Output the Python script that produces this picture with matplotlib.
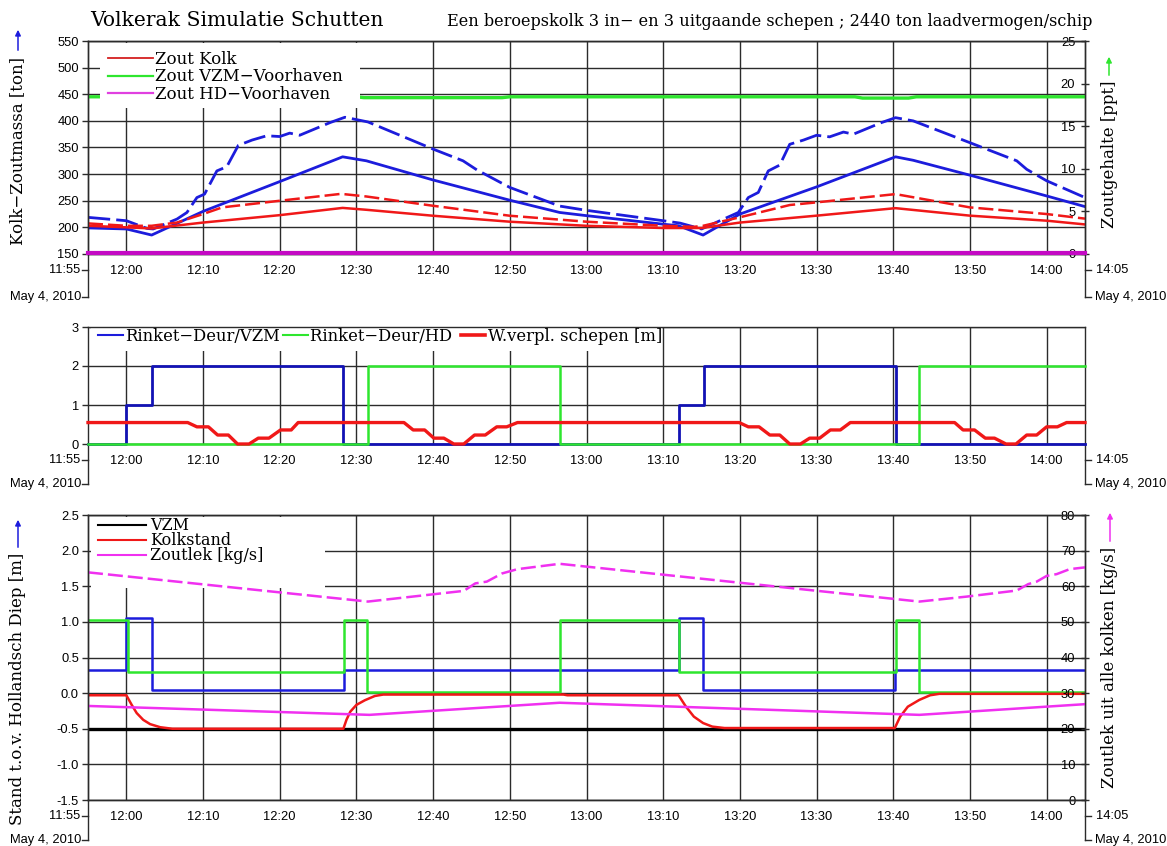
import numpy as np
import matplotlib.pyplot as plt
import matplotlib.dates as mdates
from matplotlib.lines import Line2D
from matplotlib.patches import Rectangle, FancyArrowPatch
from matplotlib.ticker import FormatStrFormatter

W, H = 1167, 846
SERIF = 'DejaVu Serif'
SANS = 'Liberation Sans'
GRID = '#2b2b2b'
RED = '#f01818'
BLUE = '#1c1cdc'
NAVY = '#1212b4'
GREEN = '#2ee62e'
MAGENTA = '#c40ac4'
PINK = '#f030f0'

START = np.datetime64('2010-05-04T11:55:00')
END_MIN = 130

# all times are minutes after 11:55

# kolk zoutmassa [ton], left axis of the top panel
mass_t = [0, 5, 8.3, 15, 25, 33.2, 36.3, 45, 55, 61.5, 65, 75, 77, 80.2, 85, 95,
          105.3, 107.6, 115, 125, 130]
mass_ton = [199, 197, 185.6, 230, 286, 332.5, 325, 289, 251, 228, 222, 206, 203, 185.6,
            225, 276, 332.5, 326, 298, 259, 239]
mass_max_t = [0, 5, 7.7, 8.5, 11.6, 12.9, 14.2, 15.2, 16.8, 18.1, 19.6, 21.4, 23.3, 25,
              26.3, 27.6, 31.6, 33.5, 36.5, 45, 48.9, 50.7, 55, 61.5, 65, 75, 77.2, 80,
              84.8, 86.1, 87.4, 88.7, 90.2, 91.5, 93.3, 95, 96.7, 98.5, 99.8, 103.5,
              105.3, 107.6, 115, 121.1, 122.4, 125, 130]
mass_max_ton = [218.8, 212.5, 198, 197, 215.6, 228, 256, 262.5, 306, 314, 354, 364, 372,
                370.6, 377, 373, 397, 406.8, 398, 347, 325, 308, 275, 240, 232, 212.5,
                208, 197, 228, 256, 265.6, 306, 317, 356, 364, 373, 370, 379, 375, 397,
                406, 400, 359, 325, 309, 287.5, 256]

# zoutgehalte [ppt], right axis of the top panel
salt_t = [0, 5, 8.3, 15, 25, 33.2, 36.3, 45, 55, 65, 75, 80, 85, 95, 105.3, 115, 125, 130]
salt_ppt = [3.31, 3.13, 3.0, 3.69, 4.56, 5.41, 5.19, 4.49, 3.79, 3.31, 3.05, 3.05, 3.69,
            4.5, 5.38, 4.5, 3.91, 3.47]
salt_max_t = [0, 5, 8.3, 11.6, 15, 17.5, 25, 33, 36.3, 45, 55, 65, 75, 79, 80.2, 85,
              91.5, 95, 105.3, 115, 125, 130]
salt_max_ppt = [3.59, 3.31, 3.31, 3.69, 4.69, 5.47, 6.25, 7.06, 6.75, 5.66, 4.49, 3.79,
                3.31, 3.19, 3.31, 4.31, 5.75, 6.06, 7.03, 5.47, 4.69, 4.15]
vzm_t = [0, 35, 36, 54, 55, 100, 101, 107, 108, 130]
vzm_ppt = [18.45, 18.45, 18.35, 18.35, 18.45, 18.45, 18.3, 18.3, 18.45, 18.45]
hd_t = [0, 130]
hd_ppt = [0.12, 0.12]

# door positions and ship displacement, middle panel
door_vzm_t = [0, 5, 8.4, 33.3, 77.0, 80.3, 105.3, 130]
door_vzm = [0, 1, 2, 0, 1, 2, 0, 0]
door_hd_t = [0, 36.5, 61.6, 108.3, 130]
door_hd = [0, 2, 0, 2, 2]
ships_t = [0, 13.0, 14.2, 15.7, 16.9, 18.3, 19.5, 21.0, 22.2, 23.6, 25.1, 26.5, 27.4,
           41.2, 42.4, 43.9, 45.1, 46.4, 47.7, 49.0, 50.4, 51.8, 53.3, 54.6, 56.0,
           84.9, 86.1, 87.5, 88.9, 90.2, 91.5, 92.9, 94.1, 95.4, 96.8, 98.1, 99.4,
           113.0, 114.1, 115.6, 117.0, 118.2, 119.7, 121.0, 122.4, 123.7, 125.0, 126.4,
           127.6, 130]
ships_m = [0.55, 0.55, 0.44, 0.44, 0.23, 0.23, 0, 0, 0.15, 0.15, 0.36, 0.36, 0.55,
           0.55, 0.36, 0.36, 0.15, 0.15, 0, 0, 0.23, 0.23, 0.44, 0.44, 0.55,
           0.55, 0.44, 0.44, 0.23, 0.23, 0, 0, 0.15, 0.15, 0.36, 0.36, 0.55,
           0.55, 0.36, 0.36, 0.15, 0.15, 0, 0, 0.23, 0.23, 0.44, 0.44, 0.55, 0.55]

# water levels [m] and salt leak [kg/s], bottom panel
vzm_level_t = [0, 130]
vzm_level = [-0.5, -0.5]
kolk_t = [0, 5, 5.7, 6.35, 7.2, 8.1, 9.4, 11, 33.3, 33.7, 34.2, 35, 36.1, 37.4, 38.5,
          62, 62.5, 77, 77.97, 79, 80.2, 81.4, 83, 105.2, 105.9, 106.9, 108.4, 109.8,
          111, 130]
kolk_level = [-0.03, -0.03, -0.165, -0.28, -0.375, -0.435, -0.478, -0.5, -0.5, -0.375,
              -0.26, -0.165, -0.1, -0.04, -0.02, -0.02, -0.03, -0.03, -0.19, -0.33,
              -0.42, -0.47, -0.49, -0.49, -0.33, -0.19, -0.095, -0.03, -0.01, -0.01]
lev_blue_t = [0, 5, 8.3, 33.4, 77, 80.2, 105.2, 130]
lev_blue = [0.32, 1.05, 0.05, 0.32, 1.05, 0.05, 0.32, 0.32]
lev_green_t = [0, 5.2, 33.4, 36.4, 61.5, 77.05, 105.3, 108.4, 130]
lev_green = [1.02, 0.29, 1.02, 0.01, 1.02, 0.29, 1.02, 0.01, 0.01]
leak_t = [0, 36.5, 49, 50.5, 52, 54, 56, 61.5, 108.4, 114.6, 121.1, 122.6, 123.7, 125,
          126.3, 128, 130]
leak = [63.9, 55.7, 58.7, 60.8, 61.3, 63.6, 64.8, 66.3, 55.7, 57.1, 58.8, 60.6, 61.3,
        62.9, 63.4, 64.8, 65.3]
leak_kolk_t = [0, 36.7, 61.5, 108.4, 130]
leak_kolk = [26.4, 23.9, 27.3, 23.9, 26.9]


def to_time(minutes):
    secs = np.round(np.asarray(minutes, dtype=float) * 60).astype('int64')
    return START + secs.astype('timedelta64[s]')


T0, T1 = to_time(0), to_time(END_MIN)

plt.rcParams['font.family'] = SANS
fig = plt.figure(figsize=(W / 100, H / 100), dpi=100)


def make_axes(top_px, bottom_px):
    ax = fig.add_axes([88 / W, 1 - bottom_px / H, 997 / W, (bottom_px - top_px) / H])
    ax.set_xlim(T0, T1)
    ax.xaxis.set_major_locator(mdates.MinuteLocator(byminute=range(0, 60, 10)))
    ax.xaxis.set_major_formatter(mdates.DateFormatter('%H:%M'))
    ax.tick_params(axis='x', length=0, pad=8, labelsize=9.3)
    ax.tick_params(axis='y', direction='out', length=4, width=1, pad=2.5,
                   labelsize=9.3, color=GRID)
    ax.set_axisbelow(True)
    ax.grid(True, color=GRID, lw=1.0)
    for s in ax.spines.values():
        s.set_color(GRID)
        s.set_linewidth(1.0)
    return ax


def right_axis(ax, lim, ticks):
    axr = ax.twinx()
    axr.set_ylim(*lim)
    axr.set_yticks(ticks)
    axr.tick_params(axis='y', direction='inout', length=6, width=1, pad=-10,
                    labelsize=9.3, color=GRID)
    plt.setp(axr.get_yticklabels(), ha='right')
    for s in axr.spines.values():
        s.set_color(GRID)
        s.set_linewidth(1.0)
    return axr


def time_ends(ax, h_px, lbl_px, date_px):
    # spine stubs below the panel with the start/end time and the date
    ext = -date_px / h_px
    lbl = -lbl_px / h_px
    tk = 6 / 997
    kw = dict(transform=ax.transAxes, color=GRID, lw=1, clip_on=False)
    for side, sign, ha, txt, gap in ((0, -1, 'right', str(T0)[11:16], 8),
                                    (1, 1, 'left', str(T1)[11:16], 11)):
        ax.plot([side, side], [0, ext], **kw)
        ax.plot([side, side + sign * tk], [lbl, lbl], **kw)
        ax.plot([side, side + sign * tk], [ext, ext], **kw)
        ax.text(side + sign * gap / 997, lbl, txt, ha=ha, va='center',
                transform=ax.transAxes, fontsize=9.3)
        ax.text(side + sign * (gap - 1) / 997, ext, 'May 4, 2010', ha=ha, va='center',
                transform=ax.transAxes, fontsize=9.3)


def blank(ax, x0, x1, y0, y1, z):
    ax.add_patch(Rectangle((x0, y0), x1 - x0, y1 - y0, transform=ax.transAxes,
                           facecolor='white', edgecolor='none', zorder=z))


def side_label(x_px, top_px, tip_px, tail_px, text, color):
    fig.text(x_px / W, 1 - top_px / H, text, rotation=90, ha='center', va='top',
             family=SERIF, fontsize=12)
    fig.patches.append(FancyArrowPatch(
        (x_px / W, 1 - tail_px / H), (x_px / W, 1 - tip_px / H),
        transform=fig.transFigure, arrowstyle='-|>', mutation_scale=8,
        color=color, lw=1.1))


leg_kw = dict(loc='upper left', frameon=False, borderpad=0, borderaxespad=0)
on_top = dict(zorder=3, clip_on=False)

# ---- top panel: salt mass and salinity
ax1 = make_axes(41, 254)
ax1.set_ylim(150, 550)
ax1.set_yticks(range(150, 551, 50))
ax1.plot(to_time(mass_t), mass_ton, color=BLUE, lw=2.0)
ax1.plot(to_time(mass_max_t), mass_max_ton, color=BLUE, lw=2.0, dashes=(8, 2.2))

ax1b = right_axis(ax1, (0, 25), range(0, 26, 5))
ax1b.plot(to_time(salt_t), salt_ppt, color=RED, lw=1.8)
ax1b.plot(to_time(salt_max_t), salt_max_ppt, color=RED, lw=1.8, dashes=(6, 2))
ax1b.plot(to_time(vzm_t), vzm_ppt, color=GREEN, lw=2.4)
ax1b.plot(to_time(hd_t), hd_ppt, color=MAGENTA, lw=3.0, **on_top)
blank(ax1b, 0.012, 0.273, 0.685, 0.99, 3.5)
leg = ax1b.legend([Line2D([], [], color='#d42020', lw=1.3),
                   Line2D([], [], color=GREEN, lw=1.6),
                   Line2D([], [], color='#e040e0', lw=1.6)],
                  ['Zout Kolk', 'Zout VZM\u2212Voorhaven', 'Zout HD\u2212Voorhaven'],
                  bbox_to_anchor=(0.02, 0.955), handlelength=2.7, labelspacing=0.05,
                  handletextpad=0.15, prop={'family': SERIF, 'size': 12}, **leg_kw)
leg.set_zorder(5)
time_ends(ax1, 213, 16, 43)

# ---- middle panel: doors and ship displacement
ax2 = make_axes(327, 444)
ax2.set_ylim(0, 3)
ax2.set_yticks([0, 1, 2, 3])
ax2.plot(to_time(door_vzm_t), door_vzm, color=NAVY, lw=2.0, drawstyle='steps-post',
         **on_top)
ax2.plot(to_time(door_hd_t), door_hd, color=GREEN, lw=1.8, drawstyle='steps-post',
         zorder=3.1, clip_on=False)
ax2.plot(to_time(ships_t), ships_m, color=RED, lw=2.4, zorder=3.2, clip_on=False)
blank(ax2, 0.003, 0.576, 0.795, 0.99, 1)
leg = ax2.legend([Line2D([], [], color=BLUE, lw=1.5),
                  Line2D([], [], color=GREEN, lw=1.5),
                  Line2D([], [], color=RED, lw=2.6)],
                 ['Rinket\u2212Deur/VZM', 'Rinket\u2212Deur/HD ', 'W.verpl. schepen [m]'],
                 ncol=3, columnspacing=0.2, bbox_to_anchor=(0.01, 0.995),
                 handlelength=1.5, handletextpad=0.15,
                 prop={'family': SERIF, 'size': 11.8}, **leg_kw)
leg.set_zorder(5)
time_ends(ax2, 117, 16, 40)

# ---- bottom panel: levels and salt leak
ax3 = make_axes(515, 800)
ax3.set_ylim(-1.5, 2.5)
ax3.set_yticks(np.arange(-1.5, 2.51, 0.5))
ax3.yaxis.set_major_formatter(FormatStrFormatter('%.1f'))
ax3.plot(to_time(vzm_level_t), vzm_level, color='black', lw=2.4)
ax3.plot(to_time(lev_blue_t), lev_blue, color=BLUE, lw=1.8, drawstyle='steps-post')
ax3.plot(to_time(lev_green_t), lev_green, color=GREEN, lw=1.8, drawstyle='steps-post')
ax3.plot(to_time(kolk_t), kolk_level, color=RED, lw=1.8)
blank(ax3, 0.003, 0.238, 0.744, 0.993, 1)

ax3b = right_axis(ax3, (0, 80), range(0, 81, 10))
ax3b.plot(to_time(leak_t), leak, color=PINK, lw=1.8, dashes=(6, 2))
ax3b.plot(to_time(leak_kolk_t), leak_kolk, color=PINK, lw=1.8)
leg = ax3b.legend([Line2D([], [], color='black', lw=1.5),
                   Line2D([], [], color=RED, lw=1.5),
                   Line2D([], [], color=PINK, lw=1.5)],
                  ['VZM', 'Kolkstand', 'Zoutlek [kg/s]'],
                  bbox_to_anchor=(0.01, 0.992), handlelength=3.0, labelspacing=-0.12,
                  handletextpad=0.25, prop={'family': SERIF, 'size': 11.5}, **leg_kw)
leg.set_zorder(5)
time_ends(ax3, 285, 16, 40)

# ---- titles and axis labels
fig.text(90 / W, 1 - 20 / H, 'Volkerak Simulatie Schutten', ha='left', va='center',
         family=SERIF, fontsize=14.6)
fig.text(1092 / W, 1 - 21 / H,
         'Een beroepskolk 3 in\u2212 en 3 uitgaande schepen ; 2440 ton laadvermogen/schip',
         ha='right', va='center', family=SERIF, fontsize=11.6)
side_label(18, 57, 27, 53, 'Kolk\u2212Zoutmassa [ton]', BLUE)
side_label(1109, 80, 54, 78, 'Zoutgehalte [ppt]', GREEN)
side_label(18, 553, 517, 550, 'Stand t.o.v. Hollandsch Diep [m]', BLUE)
side_label(1110, 547, 510, 544, 'Zoutlek uit alle kolken [kg/s]', PINK)

fig.savefig('out.png', dpi=100)
